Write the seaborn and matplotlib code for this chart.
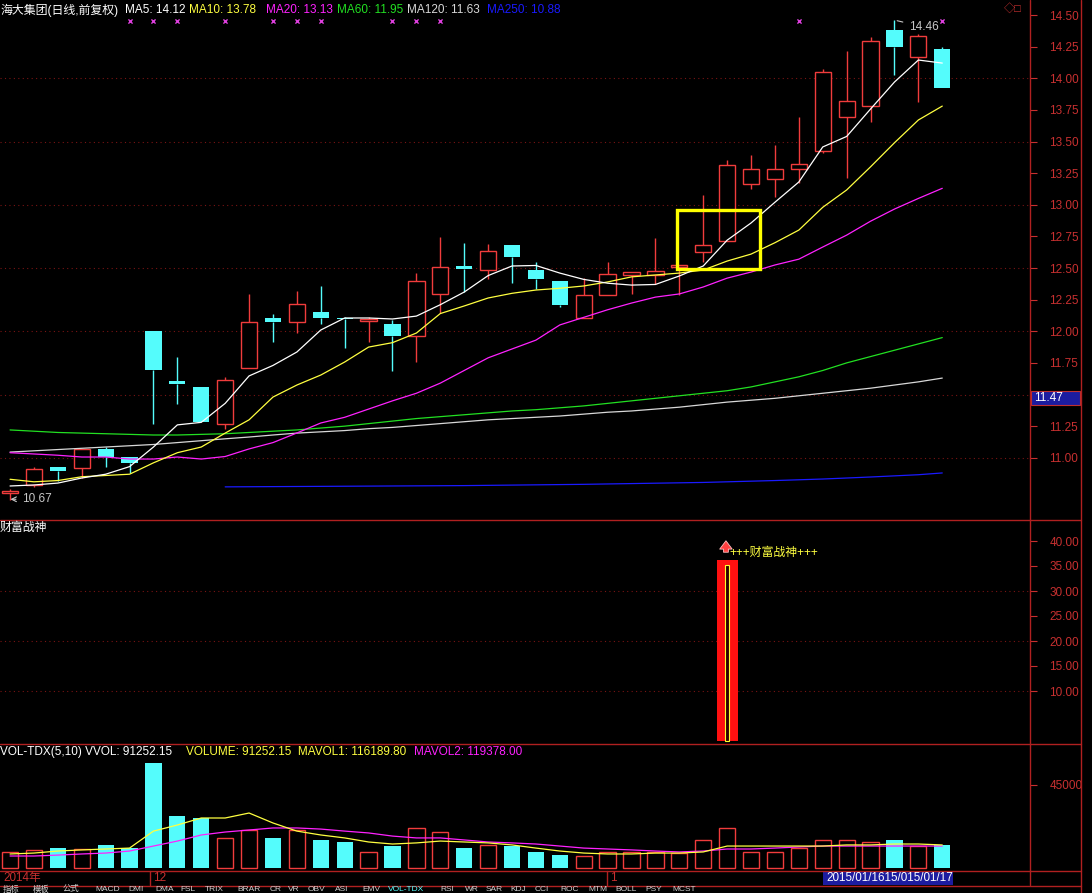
import matplotlib
matplotlib.use("Agg")
import matplotlib.pyplot as plt
from matplotlib import font_manager
from matplotlib.patches import Rectangle
from matplotlib.ticker import FormatStrFormatter
import numpy as np
import pandas as pd
import seaborn as sns

# ---- daily candles (前复权) ----
opens = [10.72, 10.785, 10.93, 10.92, 11.07, 11.01, 12.00, 11.607, 11.56, 11.27,
         11.71, 12.105, 12.07, 12.15, 12.105, 12.08, 12.057, 11.96, 12.295, 12.516,
         12.484, 12.68, 12.484, 12.397, 12.105, 12.287, 12.445, 12.445, 12.508, 12.626,
         12.713, 13.164, 13.204, 13.283, 13.425, 13.694, 13.78, 14.381, 14.168, 14.23]
highs = [10.75, 10.93, 10.93, 11.07, 11.085, 11.01, 12.00, 11.80, 11.56, 11.64,
         12.295, 12.14, 12.32, 12.36, 12.11, 12.11, 12.09, 12.46, 12.745, 12.70,
         12.69, 12.68, 12.547, 12.397, 12.42, 12.547, 12.468, 12.737, 12.516, 13.077,
         13.354, 13.393, 13.472, 13.694, 14.073, 14.215, 14.326, 14.46, 14.35, 14.247]
lows = [10.67, 10.77, 10.82, 10.84, 10.93, 10.88, 11.27, 11.425, 11.28, 11.23,
        11.71, 11.915, 11.99, 12.06, 11.87, 11.915, 11.686, 11.757, 12.144, 12.31,
        12.41, 12.38, 12.334, 12.19, 12.105, 12.287, 12.295, 12.374, 12.287, 12.547,
        12.713, 13.124, 13.06, 13.17, 13.41, 13.21, 13.654, 14.026, 13.81, 13.92]
closes = [10.74, 10.91, 10.895, 11.07, 11.01, 10.96, 11.69, 11.58, 11.28, 11.615,
          12.07, 12.07, 12.215, 12.105, 12.095, 12.095, 11.96, 12.397, 12.508, 12.49,
          12.634, 12.587, 12.41, 12.21, 12.287, 12.453, 12.468, 12.476, 12.516, 12.68,
          13.314, 13.283, 13.283, 13.322, 14.05, 13.82, 14.294, 14.247, 14.334, 13.92]

# ---- moving averages ----
ma5 = [10.777, 10.785, 10.80, 10.84, 10.87, 10.93, 11.085, 11.26, 11.28, 11.43,
       11.647, 11.73, 11.836, 12.01, 12.105, 12.105, 12.097, 12.12, 12.21, 12.31,
       12.44, 12.516, 12.52, 12.46, 12.41, 12.38, 12.365, 12.37, 12.437, 12.516,
       12.72, 12.856, 13.02, 13.18, 13.457, 13.54, 13.757, 13.97, 14.144, 14.12]
ma10 = [10.83, 10.81, 10.82, 10.85, 10.86, 10.87, 10.96, 11.04, 11.085, 11.195,
        11.30, 11.48, 11.575, 11.654, 11.757, 11.875, 11.91, 11.986, 12.14, 12.20,
        12.263, 12.30, 12.326, 12.34, 12.358, 12.39, 12.43, 12.445, 12.46, 12.484,
        12.555, 12.61, 12.70, 12.80, 12.98, 13.117, 13.30, 13.49, 13.67, 13.78]
ma20 = [11.04, 11.03, 11.02, 11.006, 11.006, 10.99, 10.99, 11.006, 10.99, 11.01,
        11.07, 11.12, 11.196, 11.275, 11.32, 11.385, 11.45, 11.51, 11.59, 11.69,
        11.79, 11.86, 11.93, 12.05, 12.11, 12.17, 12.223, 12.27, 12.295, 12.35,
        12.42, 12.468, 12.524, 12.57, 12.666, 12.76, 12.87, 12.966, 13.05, 13.13]
ma60 = [11.22, 11.21, 11.20, 11.195, 11.19, 11.185, 11.18, 11.18, 11.185, 11.19,
        11.20, 11.21, 11.22, 11.235, 11.25, 11.27, 11.29, 11.31, 11.325, 11.34,
        11.355, 11.37, 11.38, 11.395, 11.41, 11.43, 11.45, 11.47, 11.49, 11.51,
        11.53, 11.56, 11.60, 11.64, 11.69, 11.75, 11.80, 11.85, 11.90, 11.95]
ma120 = [11.045, 11.055, 11.065, 11.075, 11.085, 11.095, 11.105, 11.12, 11.135, 11.15,
         11.164, 11.18, 11.195, 11.205, 11.215, 11.23, 11.24, 11.255, 11.27, 11.285,
         11.30, 11.31, 11.32, 11.33, 11.345, 11.36, 11.37, 11.385, 11.40, 11.42,
         11.44, 11.455, 11.47, 11.49, 11.51, 11.53, 11.55, 11.575, 11.60, 11.63]
ma250 = [np.nan] * 9 + [
    10.770, 10.771, 10.772, 10.773, 10.774, 10.775, 10.776, 10.777, 10.778, 10.779,
    10.780, 10.782, 10.784, 10.786, 10.788, 10.790, 10.793, 10.796, 10.799, 10.802,
    10.805, 10.810, 10.815, 10.820, 10.826, 10.832, 10.840, 10.848, 10.857, 10.866, 10.880]

# top "x" markers (day index)
mark_days = [5, 6, 7, 9, 11, 12, 13, 16, 17, 18, 33, 39]

# ---- 财富战神 indicator ----
signal_day = 30
signal_outer = 36.2
signal_inner = 35.2

# ---- volume ----
volume = [8700, 9800, 10800, 10300, 12500, 10800, 56900, 28200, 27100, 16300,
          20600, 16300, 20600, 15200, 14100, 8700, 11900, 21700, 19500, 10800,
          12500, 11900, 8700, 7000, 6500, 8700, 8700, 8700, 8100, 15200,
          21700, 8700, 8700, 10800, 15200, 15200, 14100, 15200, 11900, 12500]
mavol1 = [7600, 8100, 9200, 9800, 10300, 10800, 20000, 23300, 27100, 27100,
          29800, 24400, 20000, 17900, 16300, 14100, 13000, 13600, 14600, 14100,
          13600, 12500, 10800, 9200, 8100, 7600, 7600, 8100, 8100, 8700,
          11900, 11900, 11900, 11900, 11900, 12500, 12500, 13000, 13000, 12500]
mavol2 = [6500, 6500, 7000, 7600, 8100, 9200, 11900, 14600, 17900, 19500,
          20600, 21700, 21700, 21100, 20000, 19000, 17300, 16300, 16300, 15200,
          14100, 13600, 13000, 11900, 10800, 10300, 9800, 9200, 8700, 9200,
          10300, 10300, 10800, 11400, 11900, 11900, 11900, 11900, 11900, 11900]

days = np.arange(len(closes))
df = pd.DataFrame({"day": days, "open": opens, "high": highs, "low": lows, "close": closes,
                   "ma5": ma5, "ma10": ma10, "ma20": ma20, "ma60": ma60,
                   "ma120": ma120, "ma250": ma250, "vol": volume,
                   "mavol1": mavol1, "mavol2": mavol2})
up = df["close"] >= df["open"]

# ---- style ----
RED = "#F03C3C"
CYAN = "#54FCFC"
AXRED = "#C83030"
GRID = "#7A1414"
W, H = 1092, 893

sns.set_style("dark", {"axes.facecolor": "black", "figure.facecolor": "black"})
names = {f.name for f in font_manager.fontManager.ttflist}
narrow = "Liberation Sans Narrow" in names
LAT = "Liberation Sans Narrow" if narrow else "Liberation Sans"
FAM = [LAT, "Noto Sans CJK SC", "DejaVu Sans"]
plt.rcParams["font.family"] = FAM
FS = 10 if narrow else 8.5

fig = plt.figure(figsize=(W / 100, H / 100), dpi=100)
fig.patch.set_facecolor("black")
XL = (-0.42, 42.67)


def panel(y0, y1):
    ax = fig.add_axes([0, 1 - y1 / H, 1030 / W, (y1 - y0) / H])
    ax.set_facecolor("black")
    for s in ax.spines.values():
        s.set_visible(False)
    ax.set_xlim(*XL)
    ax.set_xticks([])
    ax.yaxis.tick_right()
    ax.tick_params(axis="y", colors=AXRED, length=5, width=0.8, pad=9,
                   labelsize=FS, direction="out")
    ax.grid(False)
    return ax


def ftext(x, y, s, **kw):
    kw.setdefault("va", "center")
    kw.setdefault("fontsize", FS)
    fig.text(x / W, 1 - y / H, s, **kw)


# ================= main price panel =================
ax1 = panel(0, 519)
ax1.set_ylim(10.516, 14.6186)
pticks = np.arange(11.0, 14.51, 0.25)
# the 11.50 label sits under the blue 11.47 price box
ax1.set_yticks(pticks, ["" if abs(t - 11.5) < 1e-6 else f"{t:.2f}" for t in pticks])
for g in np.arange(11.0, 14.01, 0.5):
    ax1.axhline(g, color=GRID, lw=0.8, ls=(0, (1, 3)), zorder=0)

bw = 0.68
for _, r in df.iterrows():
    lo_b, hi_b = min(r.open, r.close), max(r.open, r.close)
    col = RED if r.close >= r.open else CYAN
    ax1.vlines(r.day, hi_b, r.high, color=col, lw=1, zorder=2)
    ax1.vlines(r.day, r.low, lo_b, color=col, lw=1, zorder=2)
    h = max(hi_b - lo_b, 0.012)
    if r.close >= r.open:
        ax1.bar(r.day, h, bottom=lo_b, width=bw, facecolor="black",
                edgecolor=RED, lw=1, zorder=3)
    else:
        ax1.bar(r.day, h, bottom=lo_b, width=bw, color=CYAN, lw=0, zorder=3)

ma_styles = [("ma250", "#1a1aff"), ("ma120", "#d8d8d8"), ("ma60", "#22e022"),
             ("ma20", "#ff22ff"), ("ma10", "#ffff40"), ("ma5", "white")]
for col, c in ma_styles:
    sns.lineplot(data=df, x="day", y=col, color=c, lw=0.9, ax=ax1, zorder=4)
ax1.set_xlim(*XL)
ax1.set_xlabel("")
ax1.set_ylabel("")

ax1.scatter(mark_days, [14.453] * len(mark_days), marker="x", s=9,
            color="#e040e0", lw=1, zorder=5)
ax1.add_patch(Rectangle((27.92, 12.492), 3.455, 0.466, fill=False,
                        edgecolor="#ffff00", lw=2.4, zorder=6))
ax1.annotate("10.67", xy=(-0.1, 10.672), xytext=(0.5, 10.672), color="#c8c8c8",
             fontsize=FS, va="center",
             arrowprops=dict(arrowstyle="->", color="#c8c8c8", lw=0.8))
ax1.annotate("14.46", xy=(37.0, 14.46), xytext=(37.6, 14.405), color="#c8c8c8",
             fontsize=FS, va="center",
             arrowprops=dict(arrowstyle="-", color="#c8c8c8", lw=0.8))

# header
ftext(0, 10, "海大集团(日线,前复权)", color="white", fontsize=8.6)
hdr = [(125, "MA5: 14.12", "white"), (189, "MA10: 13.78", "#ffff40"),
       (266, "MA20: 13.13", "#ff22ff"), (337, "MA60: 11.95", "#22e022"),
       (407, "MA120: 11.63", "#d8d8d8"), (487, "MA250: 10.88", "#1a1aff")]
for x, s, c in hdr:
    ftext(x, 10, s, color=c)
ftext(1004, 8, "◇□", color=AXRED, fontsize=8)

# ================= 财富战神 panel =================
ax2 = panel(520, 743)
ax2.set_ylim(-0.4, 44.2)
ax2.set_yticks(np.arange(10, 40.1, 5))
ax2.yaxis.set_major_formatter(FormatStrFormatter("%.2f"))
for g in (10, 20, 30):
    ax2.axhline(g, color=GRID, lw=0.8, ls=(0, (1, 3)), zorder=0)
ax2.bar([signal_day], [signal_outer], width=0.875, color="#ff1010", lw=0, zorder=2)
ax2.bar([signal_day], [signal_inner], width=0.17, facecolor="#300000",
        edgecolor="#ffff30", lw=0.8, zorder=3)
ax2.annotate("", xy=(signal_day - 0.05, 40.6), xytext=(signal_day - 0.05, 37.2),
             arrowprops=dict(arrowstyle="simple,head_width=0.9,head_length=0.6,tail_width=0.35",
                             facecolor="#ff4040", edgecolor="#ffc0c0", lw=0.6,
                             mutation_scale=10))
ax2.text(signal_day + 0.1, 37.6, "+++财富战神+++", color="#ffff40",
         fontsize=8.6, va="center")
ftext(0, 528, "财富战神", color="white", fontsize=8.6)

# ================= volume panel =================
ax3 = panel(745, 870)
ax3.set_ylim(-1084, 66666)
ax3.set_yticks([45000])
ax3.yaxis.set_major_formatter(FormatStrFormatter("%d"))
ax3.bar(df.day[up], df.vol[up], width=bw, facecolor="black", edgecolor=RED,
        lw=1, zorder=2)
ax3.bar(df.day[~up], df.vol[~up], width=bw, color=CYAN, lw=0, zorder=2)
sns.lineplot(data=df, x="day", y="mavol2", color="#ff22ff", lw=0.9, ax=ax3, zorder=4)
sns.lineplot(data=df, x="day", y="mavol1", color="#ffff40", lw=0.9, ax=ax3, zorder=4)
ax3.set_xlim(*XL)
ax3.set_xlabel("")
ax3.set_ylabel("")
ftext(0, 752, "VOL-TDX(5,10) VVOL: 91252.15", color="white")
ftext(186, 752, "VOLUME: 91252.15  MAVOL1: 116189.80", color="#ffff40")
ftext(414, 752, "MAVOL2: 119378.00", color="#ff22ff")

# ================= frame lines, date bar, tabs =================
frame = fig.add_axes([0, 0, 1, 1], facecolor="none")
frame.set_xlim(0, W)
frame.set_ylim(H, 0)
frame.axis("off")
for y in (519.5, 743.5, 870.5, 885.5):
    frame.plot([0, 1081], [y, y], color="#b02020", lw=1)
frame.plot([1030, 1030], [0, 885], color="#b02020", lw=1)
frame.plot([1081, 1081], [0, 893], color="#b02020", lw=1)
frame.plot([150, 150], [871, 885], color="#b02020", lw=1)
frame.plot([607, 607], [871, 885], color="#b02020", lw=1)
frame.add_patch(Rectangle((1031, 391), 49, 14, facecolor="#1c1ca0",
                          edgecolor="#c03030", lw=0.8))
frame.text(1034, 398, "11.47", color="white", fontsize=FS, va="center")
frame.add_patch(Rectangle((823, 871.5), 130, 13.5, facecolor="#1c1ca0", lw=0))
ftext(3, 878, "2014年", color=AXRED, fontsize=8.4)
ftext(153, 878, "12", color=AXRED)
ftext(610, 878, "1", color=AXRED)
ftext(826, 878, "2015/01/1615/015/01/17", color="white", fontsize=8.4)

tabs = [(3, "指标"), (33, "模板"), (63, "公式"), (95, "MACD"), (128, "DMI"),
        (155, "DMA"), (180, "FSL"), (205, "TRIX"), (237, "BRAR"), (270, "CR"),
        (288, "VR"), (308, "OBV"), (335, "ASI"), (362, "EMV"), (388, "VOL-TDX"),
        (440, "RSI"), (465, "WR"), (486, "SAR"), (510, "KDJ"), (535, "CCI"),
        (560, "ROC"), (588, "MTM"), (615, "BOLL"), (645, "PSY"), (672, "MCST")]
for x, s in tabs:
    c = CYAN if s == "VOL-TDX" else "#d0d0d0"
    ftext(x, 889.5, s, color=c, fontsize=6)

fig.savefig("out.png", dpi=100, facecolor="black")
